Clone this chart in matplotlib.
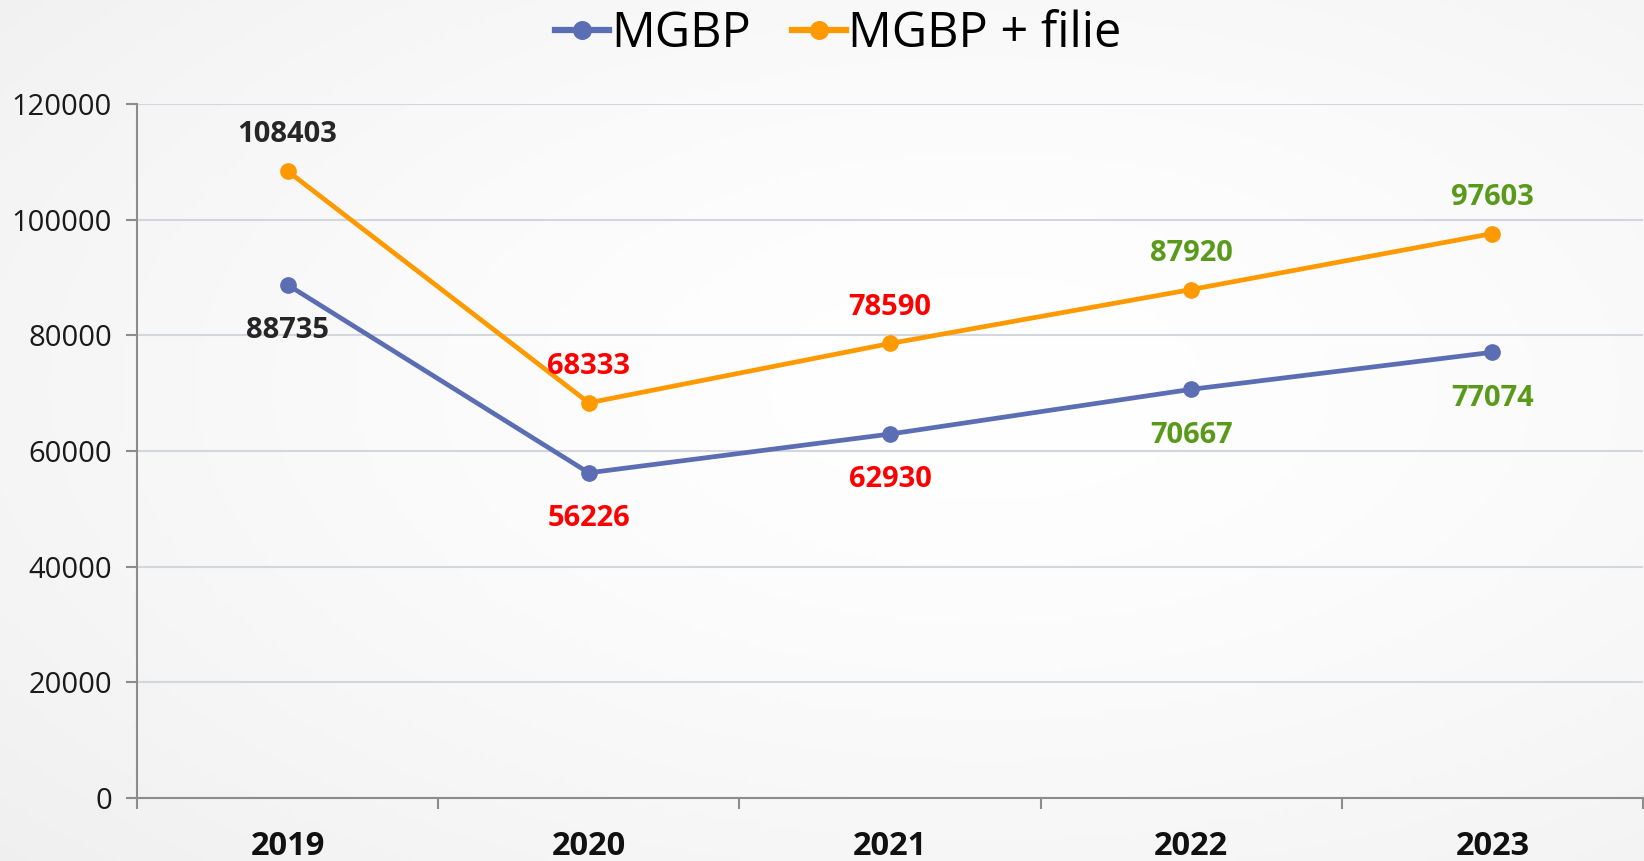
import numpy as np
import matplotlib
matplotlib.use("Agg")
import matplotlib.pyplot as plt

plt.rcParams['font.family'] = ['Open Sans', 'DejaVu Sans']

years = ["2019", "2020", "2021", "2022", "2023"]
mgbp = [88735, 56226, 62930, 70667, 77074]
mgbp_filie = [108403, 68333, 78590, 87920, 97603]
label_colors = ["#262626", "#ff0000", "#ff0000", "#5a9a1a", "#5a9a1a"]
y_ticks = [0, 20000, 40000, 60000, 80000, 100000, 120000]

W, H = 1644, 861
fig = plt.figure(figsize=(W / 100, H / 100), dpi=100)

# background radial gradient
bg = fig.add_axes([0, 0, 1, 1], zorder=-10)
yy, xx = np.mgrid[0:1:200j, 0:1:400j]
r = np.sqrt(((xx - 0.6) / 0.9) ** 2 + ((yy - 0.45) / 0.9) ** 2)
vals = 1.0 - 0.07 * np.clip(r, 0, 1) ** 1.5
bg.imshow(np.dstack([vals, vals, vals]), aspect='auto', extent=[0, 1, 0, 1])
bg.axis('off')

ax = fig.add_axes([137 / W, 1 - 798 / H, (1643 - 137) / W, (798 - 104) / H])
ax.patch.set_alpha(0)

x = np.arange(len(years))
blue = "#5b6db3"
orange = "#ff9900"
ax.plot(x, mgbp, color=blue, lw=3.4, marker='o', ms=11, label="MGBP", zorder=3)
ax.plot(x, mgbp_filie, color=orange, lw=3.4, marker='o', ms=11, label="MGBP + filie", zorder=3)

for i in range(len(years)):
    ax.annotate(str(mgbp_filie[i]), (x[i], mgbp_filie[i]), xytext=(0, 26),
                textcoords='offset points', ha='center', va='center',
                fontsize=21, fontweight='bold', color=label_colors[i])
    ax.annotate(str(mgbp[i]), (x[i], mgbp[i]), xytext=(0, -33),
                textcoords='offset points', ha='center', va='center',
                fontsize=21, fontweight='bold', color=label_colors[i])

ax.set_xlim(-0.5, len(years) - 0.5)
ax.set_ylim(0, 120000)
ax.set_yticks(y_ticks)
ax.set_yticklabels([str(v) for v in y_ticks], fontsize=21, color="#1a1a1a")
ax.set_xticks(x)
ax.set_xticklabels(years, fontsize=23.5, fontweight='bold', color="#111111")
ax.tick_params(axis='x', length=0, pad=23)
ax.set_xticks(np.arange(-0.5, len(years)), minor=True)
ax.tick_params(axis='x', which='minor', length=8, width=1.5, color="#8c8c8c", direction='out')
ax.tick_params(axis='y', length=8, width=1.5, color="#8c8c8c", pad=10)

ax.grid(axis='y', color="#d4d6de", lw=1.5)
ax.set_axisbelow(True)
for s in ['top', 'right']:
    ax.spines[s].set_visible(False)
for s in ['left', 'bottom']:
    ax.spines[s].set_color("#8c8c8c")
    ax.spines[s].set_linewidth(1.5)

leg = fig.legend(loc='center', bbox_to_anchor=(0.51, 0.96), ncol=2, frameon=False,
                 fontsize=35, handlelength=1.1, handletextpad=0.05, columnspacing=0.85,
                 markerscale=1.15)
for ln in leg.get_lines():
    ln.set_linewidth(4.5)

fig.savefig("out.png", dpi=100)
